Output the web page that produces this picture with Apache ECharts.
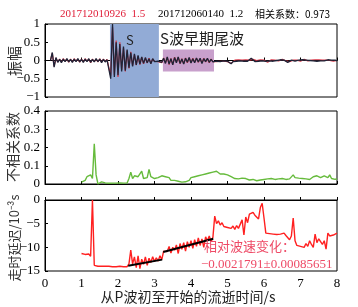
<!DOCTYPE html>
<html><head><meta charset="utf-8">
<script src="https://cdn.jsdelivr.net/npm/echarts@6/dist/echarts.min.js"></script>
<style>html,body{margin:0;padding:0;background:#fff}#c{width:358px;height:307px}</style>
</head><body><div id="c"></div>
<script>
// ---- data ----
const waveStart = 0.0, waveStep = 0.05;   // sample times of the waveform traces (s)
const waveBlack = [
 null,null,null,0.0,0.22,-0.18,0.08,-0.05,0.03,-0.06,0.04,-0.03,0.05,-0.04,0.03,-0.05,0.04,-0.03,0.05,-0.04,
 0.03,-0.05,0.04,-0.03,0.05,-0.05,0.03,-0.04,0.05,-0.03,0.04,-0.06,0.03,-0.04,0.02,0.05,-0.5,1.0,-0.45,0.5,
 -0.4,0.45,-0.3,0.38,-0.28,0.3,-0.2,0.22,-0.16,0.18,-0.12,0.14,-0.1,0.1,-0.08,0.08,-0.06,0.05,-0.09,0.05,
 -0.03,0.02,-0.02,0.03,-0.05,0.06,-0.08,0.1,-0.1,0.05,-0.12,0.08,-0.06,0.1,-0.08,0.04,-0.1,0.06,-0.05,0.08,
 -0.07,0.05,-0.06,0.07,-0.04,0.06,-0.08,0.05,-0.03,0.06,-0.05,0.03,-0.04,0.01,-0.02,0.02,-0.03,0.02,-0.01,0.03,
 -0.02,-0.06,-0.09,-0.03,0.02,-0.02,0.01,-0.01,0.02,-0.02,0.01,-0.02,0.02,0.06,0.02,-0.03,0.01,-0.02,0.01,-0.01,
 0.02,-0.02,-0.04,-0.01,0.01,-0.02,0.02,0.0,-0.02,0.02,0.04,0.01,-0.02,-0.05,-0.02,0.01,0.0,-0.02,0.02,0.01,
 -0.01,0.02,0.04,0.01,-0.02,0.0,0.02,-0.01,0.01,-0.02,0.03,-0.01,0.02,-0.01,0.0,0.02,-0.01,0.01,-0.01,0.01,
 -0.01
];
const waveRed = [
 null,null,null,0.01,0.2,-0.16,0.07,-0.04,0.04,-0.05,0.05,-0.02,0.04,-0.05,0.04,-0.04,0.05,-0.02,0.04,-0.05,
 0.04,-0.04,0.05,-0.02,0.04,-0.06,0.04,-0.03,0.04,-0.04,0.05,-0.05,0.04,-0.03,0.03,0.04,-0.42,0.92,-0.4,0.55,
 -0.45,0.5,-0.26,0.34,-0.3,0.27,-0.22,0.24,-0.14,0.16,-0.13,0.12,-0.11,0.09,-0.09,0.07,-0.07,0.06,-0.08,0.04,
 -0.02,0.03,-0.03,0.02,-0.06,0.07,-0.07,0.09,-0.11,0.06,-0.11,0.09,-0.05,0.09,-0.09,0.05,-0.09,0.07,-0.06,0.07,
 -0.06,0.06,-0.05,0.06,-0.05,0.05,-0.07,0.06,-0.04,0.05,-0.06,0.04,-0.03,0.02,-0.03,0.01,-0.02,0.03,-0.02,0.02,
 -0.03,-0.05,-0.08,-0.04,0.01,-0.01,0.02,-0.02,0.01,-0.01,0.02,-0.01,0.01,0.05,0.03,-0.02,0.0,-0.01,0.02,-0.02,
 0.01,-0.01,-0.05,-0.02,0.02,-0.01,0.01,0.01,-0.01,0.01,0.03,0.02,-0.01,-0.04,-0.03,0.0,0.01,-0.01,0.01,0.02,
 -0.02,0.01,0.03,0.02,-0.01,-0.01,0.01,0.0,0.02,-0.01,0.02,0.0,0.01,-0.02,0.01,0.01,0.0,0.02,-0.02,0.0,
 0.0
];
const sWindow = [1.78, 3.12];          // S-wave window (s)
const codaWindow = [3.23, 4.63];       // early coda window (s)
const codaBand = [-0.3, 0.3];          // amplitude extent of coda box

const anaStart = 1.0, anaStep = 0.05;  // sample times of the analysis curves (s)
const decorrelation = [
 0.01,0.012,0.02,0.04,0.03,0.05,0.03,0.22,0.05,0.0,0.01,0.012,0.008,0.006,0.005,0.004,0.006,0.005,0.004,0.005,
 0.005,0.006,0.004,0.005,0.004,0.006,0.03,0.065,0.03,0.045,0.035,0.04,0.05,0.07,0.03,0.04,0.035,0.08,0.04,0.035,
 0.03,0.04,0.035,0.03,0.045,0.055,0.04,0.03,0.035,0.02,0.015,0.02,0.01,0.015,0.02,0.01,0.008,0.012,0.005,0.02,
 0.035,0.03,0.04,0.035,0.045,0.04,0.05,0.045,0.055,0.05,0.06,0.055,0.065,0.06,0.07,0.06,0.055,0.06,0.055,0.055,
 0.05,0.045,0.04,0.035,0.03,0.03,0.028,0.03,0.032,0.04,0.03,0.025,0.022,0.02,0.025,0.02,0.018,0.02,0.022,0.025,
 0.025,0.025,0.028,0.025,0.03,0.028,0.025,0.03,0.028,0.032,0.03,0.028,0.025,0.03,0.028,0.03,0.05,0.035,0.03,0.032,
 0.04,0.03,0.035,0.028,0.03,0.025,0.03,0.04,0.035,0.045,0.04,0.035,0.04,0.045,0.038,0.035,0.05,0.03,0.03,0.025,
 0.03
];
const delay = [
 -11.3,-11.4,-11.5,-11.7,-11.4,-11.9,0,-13.8,-14.1,-14,-14.1,-14,-14.2,-14,-14.1,-14,-14.2,-14.1,-14,-14.1,
 -14.1,-14.0,-14.2,-14.1,-14.0,-14.1,-13.5,-10.6,-13.5,-12.0,-14.3,-11.8,-14.5,-12.5,-13.6,-12.0,-13.8,-12.3,-13.2,-12.0,
 -13.0,-12.2,-12.9,-11.8,-12.6,-10.8,-10.4,-10.9,-9.8,-11.2,-10.0,-10.6,-9.5,-11.3,-9.2,-10.4,-9.0,-10.8,-8.8,-10.0,
 -8.6,-10.2,-8.4,-9.8,-8.0,-9.6,-8.2,-10.0,-7.8,-8.6,-7.6,-8.8,-7.9,-3.4,-5.0,-4.4,-5.3,-4.8,-5.6,-5.2,
 -5.8,-5.6,-6.0,-5.5,-6.2,-5.4,-6.0,-5.8,-4.2,-7.4,-3.6,-4.8,-3.0,-3.4,-2.6,-3.2,-2.8,-4.0,-1.6,-0.7,
 -3.8,-7.0,-7.2,-7.1,-7.3,-7.2,-7.0,-7.3,-7.1,-7.2,-6.8,-7.0,-7.5,-7.2,-8.4,-7.6,-3.8,-8.6,-9.6,-9.2,
 -9.8,-9.4,-10.0,-9.2,-9.8,-8.6,-9.4,-10.0,-7.2,-9.0,-8.2,-8.8,-9.4,-8.6,-10.4,-7.0,-7.6,-7.8,-7.4,-7.6,
 -7.0
];
const fit1T = [2.28, 3.21], fit1V = [-13.9, -12.6];
const fit2T = [3.24, 4.61], fit2V = [-11.0, -8.2];

const xTicks = [0,1,2,3,4,5,6,7,8];
const title1 = '201712010926  1.5', title2 = '201712060140  1.2', title3 = '相关系数：0.973';
const yName1 = '振幅', yName2 = '不相关系数', yName3 = '走时延迟/10⁻³s';
const xName = '从P波初至开始的流逝时间/s';
const noteLine1 = '相对波速变化：', noteLine2 = '−0.0021791±0.00085651';

// ---- build ----
function pairs(start, step, vals){
  const out = [];
  vals.forEach((v,i)=>{ if(v!==null) out.push([+(start+i*step).toFixed(3), v]); });
  return out;
}
const zip = (a,b)=>a.map((x,i)=>[x,b[i]]);
const SERIF = '"Liberation Serif","DejaVu Serif",serif';
const CJKF = '"Noto Sans CJK SC",sans-serif';
const minus = v => String(v).replace('-', '−');

const L = 45, R = 21;
const grids = [
  {left:L, right:R, top:24, height:73},
  {left:L, right:R, top:111, height:73},
  {left:L, right:R, top:200, height:71}
].map(g=>Object.assign(g,{show:true, borderColor:'#000', borderWidth:1, backgroundColor:'transparent',
  containLabel:false, outerBoundsMode:'none'}));

function xAx(i, showLabel){
  return {type:'value', gridIndex:i, min:xTicks[0], max:xTicks[xTicks.length-1], interval:1,
    axisLine:{show:true, lineStyle:{color:'#000'}}, splitLine:{show:false},
    axisTick:{show:true, inside:true, length:3, lineStyle:{color:'#000'}},
    axisLabel:{show:showLabel, color:'#000', fontFamily:SERIF, fontSize:13, margin:6}};
}
function yAx(i, min, max, interval){
  return {type:'value', gridIndex:i, min, max, interval,
    axisLine:{show:true, lineStyle:{color:'#000'}}, splitLine:{show:false},
    axisTick:{show:true, inside:true, length:3, lineStyle:{color:'#000'}},
    axisLabel:{color:'#000', fontFamily:SERIF, fontSize:13, margin:5, formatter:minus}};
}
function vText(x, y, text, size){
  return {type:'text', x, y, rotation:Math.PI/2, z:10,
    style:{text, fill:'#333', font:size+'px '+CJKF, textAlign:'center', textVerticalAlign:'middle'}};
}

const chart = echarts.init(document.getElementById('c'), null, {renderer:'canvas'});
chart.setOption({
  animation:false,
  grid: grids,
  xAxis: [xAx(0,false), xAx(1,false), xAx(2,true)],
  yAxis: [yAx(0,-1,1,0.5), yAx(1,0,0.4,0.1), yAx(2,-15,0,5)],
  series: [
    {type:'line', xAxisIndex:0, yAxisIndex:0, data:pairs(waveStart,waveStep,waveRed), showSymbol:false,
      lineStyle:{color:'#d83545', width:1.2}, z:3,
      markArea:{silent:true, data:[
        [{xAxis:sWindow[0], yAxis:-1, itemStyle:{color:'#92abd6'}}, {xAxis:sWindow[1], yAxis:1}],
        [{xAxis:codaWindow[0], yAxis:codaBand[1], itemStyle:{color:'#c8a0cc'}}, {xAxis:codaWindow[1], yAxis:codaBand[0]}]
      ]}},
    {type:'line', xAxisIndex:0, yAxisIndex:0, data:pairs(waveStart,waveStep,waveBlack), showSymbol:false,
      lineStyle:{color:'#1e2438', width:1.3}, z:4},
    {type:'line', xAxisIndex:1, yAxisIndex:1, data:pairs(anaStart,anaStep,decorrelation), showSymbol:false,
      lineStyle:{color:'#66bb3c', width:1.4}},
    {type:'line', xAxisIndex:2, yAxisIndex:2, data:pairs(anaStart,anaStep,delay), showSymbol:false,
      lineStyle:{color:'#ff2020', width:1.4}},
    {type:'line', xAxisIndex:2, yAxisIndex:2, data:zip(fit1T,fit1V), showSymbol:false,
      lineStyle:{color:'#000', width:2}, z:5},
    {type:'line', xAxisIndex:2, yAxisIndex:2, data:zip(fit2T,fit2V), showSymbol:false,
      lineStyle:{color:'#000', width:2}, z:5}
  ],
  graphic: [
    {type:'text', left:60, top:9, style:{text:title1, fill:'#e0203a', font:'11px '+SERIF}},
    {type:'text', left:158, top:9, style:{text:title2, fill:'#000', font:'11px '+SERIF}},
    {type:'text', left:255, top:9, style:{text:title3, fill:'#000', font:'10px '+CJKF}},
    {type:'text', left:126, top:34, z:10, style:{text:'S', fill:'#222', font:'13px '+CJKF}},
    {type:'text', left:160, top:31, z:10, style:{text:'S波早期尾波', fill:'#222', font:'15px '+CJKF}},
    {type:'text', left:204, top:240, z:10, style:{text:noteLine1, fill:'#ee4a66', font:'13px '+CJKF}},
    {type:'text', left:201, top:258, z:10, style:{text:noteLine2, fill:'#ee4a66', font:'13px '+SERIF}},
    vText(14, 61, yName1, 15),
    vText(13, 147, yName2, 14),
    vText(14, 238, yName3, 13),
    {type:'text', x:188, y:297, z:10, style:{text:xName, fill:'#222', font:'14px '+CJKF, textAlign:'center', textVerticalAlign:'middle'}}
  ]
});
</script></body></html>
